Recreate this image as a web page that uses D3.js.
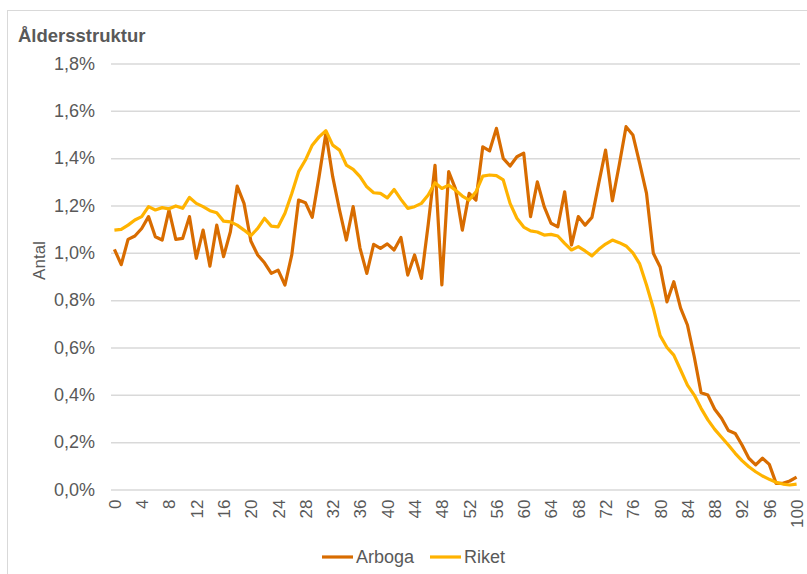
<!doctype html>
<html>
<head>
<meta charset="utf-8">
<title>Åldersstruktur</title>
<script src="https://d3js.org/d3.v7.min.js"></script>
<style>
  body { margin: 0; background: #fff; }
  text { font-family: "Liberation Sans", Arial, sans-serif; fill: #595959; }
</style>
</head>
<body>
<div id="chart"></div>
<script>
// ages 0..100 (category axis)
var ages = d3.range(0, 101);
var xTicks = [0, 4, 8, 12, 16, 20, 24, 28, 32, 36, 40, 44, 48, 52, 56, 60, 64, 68, 72, 76, 80, 84, 88, 92, 96, 100];
var yTicks = [0, 0.2, 0.4, 0.6, 0.8, 1.0, 1.2, 1.4, 1.6, 1.8];

// share of population per age, in percent
var arboga = [
  1.015, 0.950, 1.057, 1.071, 1.103, 1.153, 1.068, 1.054, 1.181, 1.057,
  1.061, 1.153, 0.977, 1.096, 0.944, 1.117, 0.984, 1.089, 1.282, 1.209,
  1.050, 0.991, 0.958, 0.913, 0.927, 0.864, 0.991, 1.223, 1.212, 1.150,
  1.322, 1.505, 1.322, 1.181, 1.054, 1.195, 1.020, 0.913, 1.036, 1.019,
  1.038, 1.012, 1.065, 0.906, 0.991, 0.892, 1.120, 1.370, 0.864, 1.343,
  1.270, 1.096, 1.251, 1.223, 1.448, 1.431, 1.526, 1.399, 1.367, 1.406,
  1.421, 1.153, 1.300, 1.195, 1.125, 1.110, 1.258, 1.033, 1.153, 1.117,
  1.150, 1.294, 1.434, 1.220, 1.371, 1.533, 1.498, 1.378, 1.251, 0.998,
  0.940, 0.793, 0.878, 0.766, 0.695, 0.561, 0.409, 0.399, 0.339, 0.301,
  0.249, 0.237, 0.188, 0.132, 0.104, 0.132, 0.106, 0.026, 0.026, 0.036,
  0.052
];
var riket = [
  1.096, 1.099, 1.117, 1.139, 1.153, 1.195, 1.181, 1.191, 1.186, 1.198,
  1.188, 1.234, 1.209, 1.195, 1.178, 1.169, 1.134, 1.131, 1.117, 1.096,
  1.073, 1.103, 1.146, 1.113, 1.110, 1.167, 1.251, 1.343, 1.392, 1.455,
  1.490, 1.516, 1.455, 1.434, 1.371, 1.353, 1.322, 1.279, 1.254, 1.251,
  1.232, 1.268, 1.226, 1.188, 1.195, 1.209, 1.244, 1.296, 1.272, 1.286,
  1.265, 1.240, 1.223, 1.258, 1.324, 1.329, 1.326, 1.308, 1.209, 1.146,
  1.109, 1.093, 1.088, 1.075, 1.078, 1.071, 1.040, 1.012, 1.026, 1.008,
  0.987, 1.015, 1.037, 1.054, 1.043, 1.029, 1.000, 0.953, 0.864, 0.766,
  0.650, 0.600, 0.568, 0.505, 0.441, 0.399, 0.343, 0.294, 0.254, 0.221,
  0.188, 0.153, 0.122, 0.096, 0.075, 0.057, 0.043, 0.030, 0.023, 0.019,
  0.023
];

var seriesNames = ["Arboga", "Riket"];
var colors = ["#d86c00", "#ffb300"];

var W = 807, H = 574;
var plot = {left: 111, right: 800, top: 63.5, bottom: 489.5};

var svg = d3.select("#chart").append("svg")
    .attr("width", W)
    .attr("height", H);

// outer chart border
svg.append("rect")
    .attr("x", 7.5).attr("y", 10.5)
    .attr("width", 820).attr("height", 600)
    .attr("fill", "#fff")
    .attr("stroke", "#d9d9d9")
    .attr("stroke-width", 1);

var x = d3.scalePoint()
    .domain(ages)
    .range([plot.left, plot.right])
    .padding(0.5);

var y = d3.scaleLinear()
    .domain([0, 1.8])
    .range([plot.bottom, plot.top]);

var fmt = function(d) { return d3.format(".1f")(d).replace(".", ",") + "%"; };

// y axis with gridlines
var yAxis = svg.append("g")
    .attr("transform", "translate(" + plot.left + ",0)")
    .call(d3.axisLeft(y)
        .tickValues(yTicks)
        .tickSize(-(plot.right - plot.left))
        .tickPadding(16)
        .tickFormat(fmt));
yAxis.select(".domain").remove();
yAxis.selectAll(".tick line")
    .attr("stroke", "#d9d9d9")
    .attr("stroke-width", 1.5);
yAxis.selectAll(".tick text")
    .style("font-size", "18px")
    .style("fill", "#595959");

// x axis, rotated labels
var xAxis = svg.append("g")
    .attr("transform", "translate(0," + plot.bottom + ")")
    .call(d3.axisBottom(x).tickValues(xTicks).tickSize(0));
xAxis.select(".domain").remove();
xAxis.selectAll(".tick text")
    .attr("transform", "rotate(-90)")
    .attr("text-anchor", "end")
    .attr("x", -10)
    .attr("y", 0)
    .attr("dy", "0.35em")
    .style("font-size", "17px")
    .style("fill", "#595959");

// lines
var line = d3.line()
    .x(function(d, i) { return x(ages[i]); })
    .y(function(d) { return y(d); });

[arboga, riket].forEach(function(vals, k) {
    svg.append("path")
        .datum(vals)
        .attr("fill", "none")
        .attr("stroke", colors[k])
        .attr("stroke-width", 3.2)
        .attr("stroke-linejoin", "round")
        .attr("d", line);
});

// title
svg.append("text")
    .attr("x", 18)
    .attr("y", 42)
    .style("font-size", "18.5px")
    .style("font-weight", "bold")
    .text("Åldersstruktur");

// y axis title
svg.append("text")
    .attr("transform", "translate(45," + ((plot.top + plot.bottom) / 2 - 16) + ") rotate(-90)")
    .attr("text-anchor", "middle")
    .style("font-size", "17px")
    .text("Antal");

// legend
var legendX = [322, 430];
seriesNames.forEach(function(name, k) {
    var g = svg.append("g").attr("transform", "translate(" + legendX[k] + ",557)");
    g.append("line")
        .attr("x1", 0).attr("x2", 31)
        .attr("y1", 0).attr("y2", 0)
        .attr("stroke", colors[k])
        .attr("stroke-width", 3.2);
    g.append("text")
        .attr("x", 34)
        .attr("y", 0)
        .attr("dy", "0.35em")
        .style("font-size", "18px")
        .text(name);
});
</script>
</body>
</html>
